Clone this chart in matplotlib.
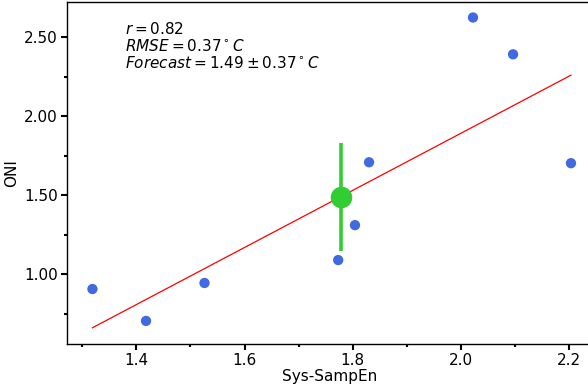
import matplotlib
matplotlib.use("Agg")
import matplotlib.pyplot as plt
import numpy as np
from matplotlib.ticker import MultipleLocator

# observed points
samp_en = [1.319, 1.418, 1.526, 1.773, 1.804, 1.830, 2.022, 2.096, 2.203]
oni = [0.906, 0.704, 0.944, 1.089, 1.310, 1.708, 2.624, 2.391, 1.702]

# regression line
fit_slope = 1.808
fit_intercept = -1.724

# forecast point
fc_x = 1.779
fc_y = 1.489
fc_err = 0.34

stats_text = "$r = 0.82$\n$RMSE = 0.37^\\circ C$\n$Forecast = 1.49 \\pm 0.37^\\circ C$"

fig = plt.figure(figsize=(5.88, 3.89), dpi=100)
ax = fig.add_axes([67 / 588, 45 / 389, (593 - 67) / 588, (344 - 2) / 389])

ax.scatter(samp_en, oni, s=55, color="royalblue", zorder=3, edgecolors="none")

xs = np.array([min(samp_en), max(samp_en)])
ax.plot(xs, fit_slope * xs + fit_intercept, color="red", lw=0.9, zorder=2)

ax.errorbar([fc_x], [fc_y], yerr=[fc_err], fmt="o", color="limegreen",
            ms=14.5, elinewidth=2.6, capsize=0, zorder=4)

ax.text(0.110, 0.945, stats_text, transform=ax.transAxes, va="top", ha="left",
        fontsize=11, linespacing=1.1)

ax.set_xlim(1.272, 2.2437)
ax.set_ylim(0.558, 2.722)
ax.xaxis.set_major_locator(MultipleLocator(0.2))
ax.xaxis.set_minor_locator(MultipleLocator(0.1))
ax.yaxis.set_major_locator(MultipleLocator(0.5))
ax.yaxis.set_minor_locator(MultipleLocator(0.25))
ax.yaxis.set_major_formatter(matplotlib.ticker.FormatStrFormatter("%.2f"))

ax.tick_params(which="major", direction="out", length=4, width=1.5,
               labelsize=11, pad=2.5)
ax.tick_params(which="minor", direction="out", length=2, width=1.5)
ax.spines["right"].set_visible(False)
for s in ["left", "bottom", "top"]:
    ax.spines[s].set_linewidth(1.0)

ax.set_xlabel("Sys-SampEn", fontsize=11, labelpad=1)
ax.set_ylabel("ONI", fontsize=11, labelpad=4)

fig.savefig("out.png", dpi=100)
